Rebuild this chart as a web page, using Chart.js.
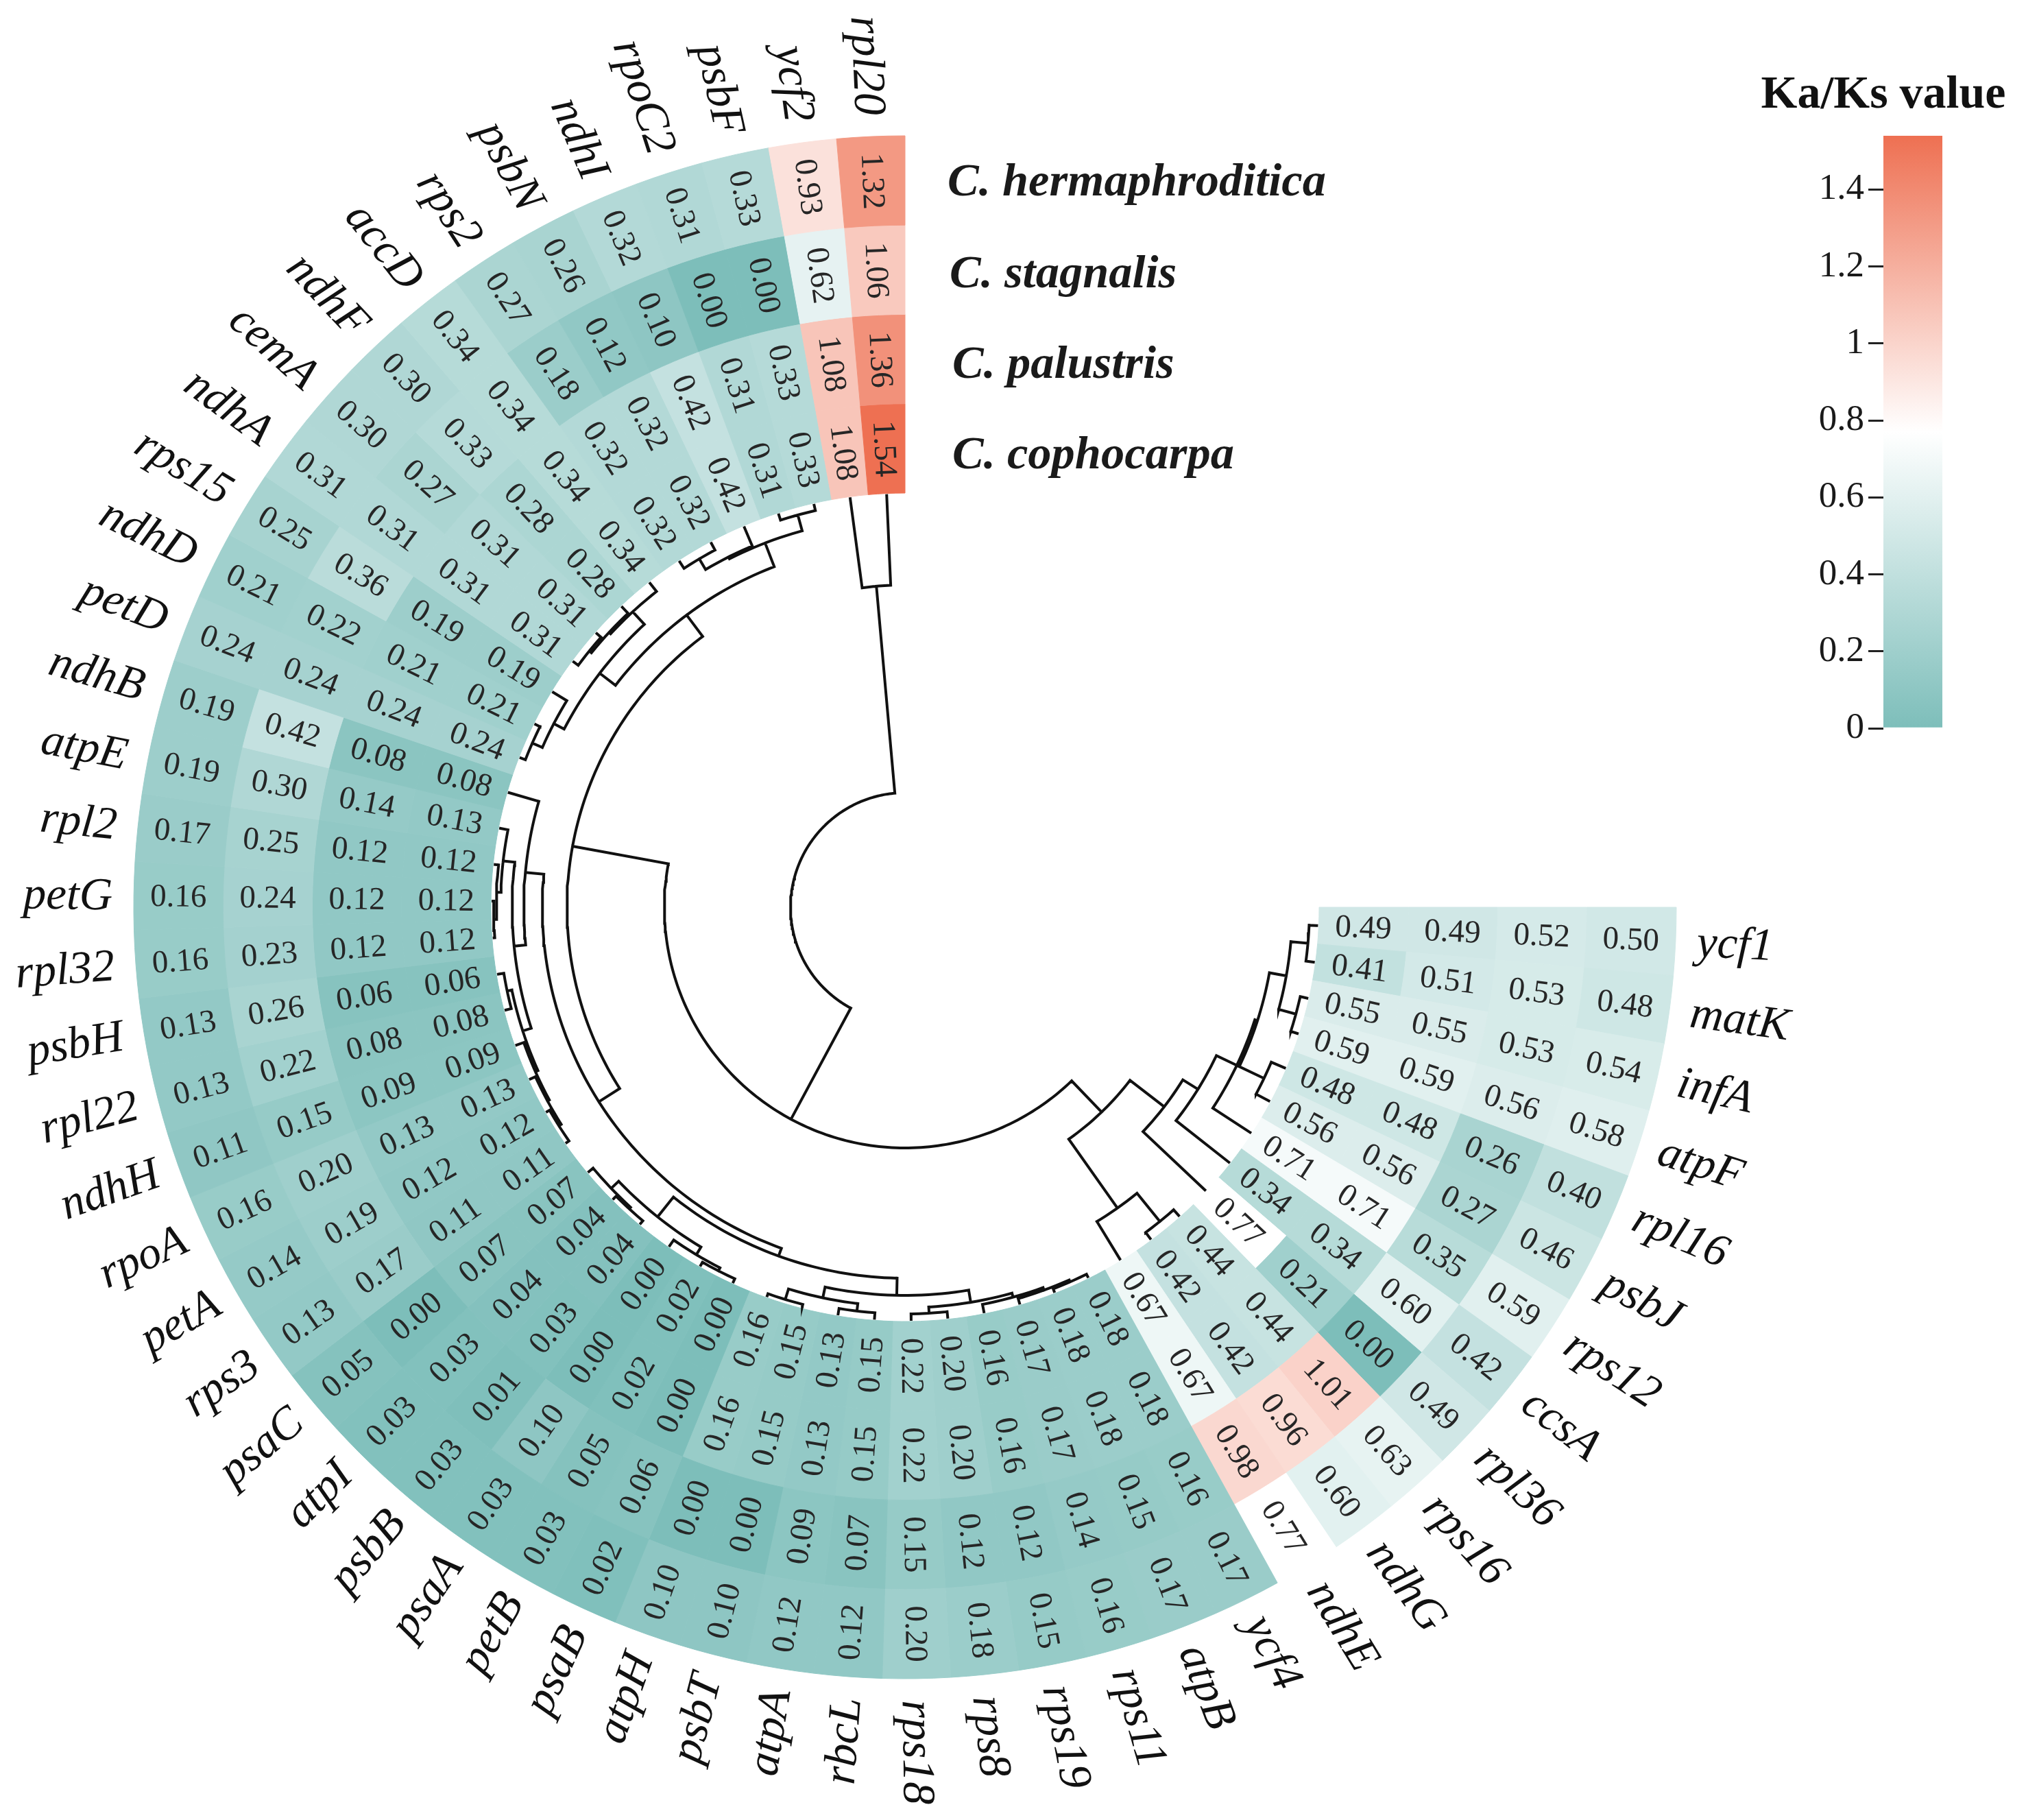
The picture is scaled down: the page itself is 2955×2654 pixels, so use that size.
<!DOCTYPE html>
<html><head><meta charset="utf-8">
<style>
html,body{margin:0;padding:0;background:#fff;overflow:hidden;width:2955px;height:2654px}
canvas{position:absolute;left:0;top:0}
#scale{left:2500px;top:70px}
</style>
<script src="https://cdn.jsdelivr.net/npm/chart.js@4"></script>
</head><body>
<canvas id="main" width="2955" height="2654"></canvas>
<canvas id="tree" width="2955" height="2654"></canvas>
<canvas id="scale" width="455" height="1030"></canvas>
<script>
const genes=["ycf1","matK","infA","atpF","rpl16","psbJ","rps12","ccsA","rpl36","rps16","ndhG","ndhE","ycf4","atpB","rps11","rps19","rps8","rps18","rbcL","atpA","psbT","atpH","psaB","petB","psaA","psbB","atpI","psaC","rps3","petA","rpoA","ndhH","rpl22","psbH","rpl32","petG","rpl2","atpE","ndhB","petD","ndhD","rps15","ndhA","cemA","ndhF","accD","rps2","psbN","ndhI","rpoC2","psbF","ycf2","rpl20"];
const hermaphroditica=[.50,.48,.54,.58,.40,.46,.59,.42,.49,.63,.60,.77,.17,.17,.16,.15,.18,.20,.12,.12,.10,.10,.02,.03,.03,.03,.03,.05,.13,.14,.16,.11,.13,.13,.16,.16,.17,.19,.19,.24,.21,.25,.31,.30,.30,.34,.27,.26,.32,.31,.33,.93,1.32];
const stagnalis=[.52,.53,.53,.56,.26,.27,.35,.60,.00,1.01,.96,.98,.16,.15,.14,.12,.12,.15,.07,.09,.00,.00,.06,.05,.10,.01,.03,.00,.17,.19,.20,.15,.22,.26,.23,.24,.25,.30,.42,.24,.22,.36,.31,.27,.33,.34,.18,.12,.10,.00,.00,.62,1.06];
const palustris=[.49,.51,.55,.59,.48,.56,.71,.34,.21,.44,.42,.67,.18,.18,.17,.16,.20,.22,.15,.13,.15,.16,.00,.02,.00,.03,.04,.07,.11,.12,.13,.09,.08,.06,.12,.12,.12,.14,.08,.24,.21,.19,.31,.31,.28,.34,.32,.32,.42,.31,.33,1.08,1.36];
const cophocarpa=[.49,.41,.55,.59,.48,.56,.71,.34,.77,.44,.42,.67,.18,.18,.17,.16,.20,.22,.15,.13,.15,.16,.00,.02,.00,.04,.04,.07,.11,.12,.13,.09,.08,.06,.12,.12,.12,.13,.08,.24,.21,.19,.31,.31,.28,.34,.32,.32,.42,.31,.33,1.08,1.54];
const speciesNames=["C. hermaphroditica","C. stagnalis","C. palustris","C. cophocarpa"];
const speciesLabelX=[1382,1385,1389,1389];
const speciesLabelY=[267,401,533,665];
const scaleTicks=[0,0.2,0.4,0.6,0.8,1,1.2,1.4];
const scaleMax=1.54, scaleMid=0.77;
const colorLow=[125,190,186], colorMid=[255,255,255], colorHigh=[238,112,82];

/* dendrogram: [merge radius, child, child]; strings are leaves */
const bottomRightClade=[414,
  [537,"ndhE",[590,"rps16","ndhG"]],
  [477,"rpl36",[503,"ccsA",[536,"rps12",[540,[580,"rpl16","psbJ"],[565,[590,"ycf1","matK"],[591,"infA","atpF"]]]]]]];
const plastidCladeA=[556,"ndhB",[573,
  [590,"atpE",[596,"rpl2",[600,"petG","rpl32"]]],
  [586,[593,"psbH","rpl22"],[590,"ndhH",[593,"rpoA",[597,"petA","rps3"]]]]]];
const plastidCladeB=[541,
  [578,[593,"psaC",[596,"atpI","psbB"]],[591,"psaA",[596,"petB","psaB"]]],
  [566,
    [582,[598,"atpH","psbT"],[593,"atpA","rbcL"]],
    [584,[593,"rps18","rps8"],[590,"rps19",[594,"rps11",[597,"atpB","ycf4"]]]]]];
const upperLeftClade=[532,
  [561,[586,"accD",[589,"ndhF",[593,"cemA","ndhA"]]],[578,"rps15",[594,"ndhD","petD"]]],
  [569,[572,[590,"rps2","psbN"],"ndhI"],[593,"rpoC2","psbF"]]];
const dendrogram=[167,
  [351,[493,[529,plastidCladeA,plastidCladeB],upperLeftClade],bottomRightClade],
  [470,"ycf2","rpl20"]];
const leafRadius=601;

const sweepDeg=270;
function cellColor(v){
  const [a,b,t]=v<=scaleMid?[colorLow,colorMid,v/scaleMid]:[colorMid,colorHigh,(v-scaleMid)/(scaleMax-scaleMid)];
  const c=a.map((x,i)=>Math.round(x+(b[i]-x)*t));
  return `rgb(${c[0]},${c[1]},${c[2]})`;
}
function polar(r,deg){const a=deg*Math.PI/180;return {x:r*Math.cos(a),y:-r*Math.sin(a)};}
const gap={x:null,y:null};
const treePoints=[];
function walk(node){
  if(typeof node==="string"){
    return {deg:(genes.indexOf(node)+.5)*sweepDeg/genes.length,r:leafRadius};
  }
  const [r,a,b]=node;
  const ca=walk(a),cb=walk(b);
  const from=Math.min(ca.deg,cb.deg),to=Math.max(ca.deg,cb.deg);
  for(const c of [ca,cb]){treePoints.push(polar(r,c.deg),polar(c.r,c.deg),gap);}
  for(let d=from;d<to;d+=1)treePoints.push(polar(r,d));
  treePoints.push(polar(r,to),gap);
  return {deg:(ca.deg+cb.deg)/2,r};
}
walk(dendrogram);

const series=[hermaphroditica,stagnalis,palustris,cophocarpa];
const ringDatasets=series.map((vals,i)=>({
  label:speciesNames[i],
  data:genes.map(()=>1),
  backgroundColor:vals.map(cellColor),borderColor:vals.map(cellColor),borderWidth:1
}));

function radialText(ctx,x,y,theta,text,align,off){
  const flip=theta>Math.PI/2&&theta<Math.PI*1.5;
  ctx.save();ctx.translate(x,y);ctx.rotate(flip?theta-Math.PI:theta);
  ctx.textBaseline="middle";
  if(align==="center"){ctx.textAlign="center";}
  else{ctx.textAlign=flip?"right":"left";}
  ctx.fillText(text,0,off||0);
  ctx.restore();
}
const labelPlugin={id:"labels",afterDatasetsDraw(chart){
  const ctx=chart.ctx;
  ctx.save();
  series.forEach((vals,ds)=>{
    const arcs=chart.getDatasetMeta(ds).data;
    ctx.font='47px "Liberation Serif"';ctx.fillStyle="#262626";
    arcs.forEach((arc,i)=>{
      const p=arc.getProps(["x","y","startAngle","endAngle","innerRadius","outerRadius"],true);
      const th=(p.startAngle+p.endAngle)/2, r=(p.innerRadius+p.outerRadius)/2;
      radialText(ctx,p.x+r*Math.cos(th),p.y+r*Math.sin(th),th,vals[i].toFixed(2),"center",2);
    });
    if(ds===0){
      ctx.font='italic 67px "Liberation Serif"';ctx.fillStyle="#111";
      arcs.forEach((arc,i)=>{
        const p=arc.getProps(["x","y","startAngle","endAngle","outerRadius"],true);
        const th=(p.startAngle+p.endAngle)/2, r=p.outerRadius+31;
        radialText(ctx,p.x+r*Math.cos(th),p.y+r*Math.sin(th),th,genes[i],"side",3);
      });
    }
  });
  ctx.font='italic bold 68.5px "Liberation Serif"';ctx.fillStyle="#1a1a1a";
  ctx.textAlign="left";ctx.textBaseline="middle";
  speciesNames.forEach((n,i)=>ctx.fillText(n,speciesLabelX[i],speciesLabelY[i]));
  ctx.restore();
}};
const polarArea={left:0,top:0,right:315,bottom:8};
new Chart(document.getElementById("main"),{
  type:"doughnut",
  data:{labels:genes,datasets:ringDatasets},
  plugins:[labelPlugin],
  options:{
    responsive:false,devicePixelRatio:1,animation:false,events:[],
    rotation:90,circumference:sweepDeg,radius:1125,cutout:"53.69%",
    layout:{padding:polarArea},
    plugins:{legend:{display:false},tooltip:{enabled:false},title:{display:false}}
  }
});
new Chart(document.getElementById("tree"),{
  type:"scatter",
  data:{datasets:[{label:"dendrogram",data:treePoints,showLine:true,
    borderColor:"#111",borderWidth:4,pointRadius:0,tension:0,spanGaps:false,clip:false,
    borderCapStyle:"square",borderJoinStyle:"miter"}]},
  options:{
    responsive:false,devicePixelRatio:1,animation:false,events:[],
    layout:{padding:polarArea},
    scales:{
      x:{type:"linear",display:false,min:-1320,max:1320},
      y:{type:"linear",display:false,min:-1323,max:1323}
    },
    plugins:{legend:{display:false},tooltip:{enabled:false}}
  }
});

const scaleTitle={id:"scaleTitle",afterDraw(chart){
  const c=chart.ctx;c.save();
  c.font='bold 68px "Liberation Serif"';c.fillStyle="#111";c.textAlign="center";c.textBaseline="alphabetic";
  c.fillText("Ka/Ks value",247,87);c.restore();
}};
new Chart(document.getElementById("scale"),{
  type:"bar",
  data:{labels:["Ka/Ks"],datasets:[{data:[scaleMax],barPercentage:1,categoryPercentage:1,borderWidth:0,
    backgroundColor(ctx){
      const ch=ctx.chart,s=ch.scales.y;
      if(!ch.chartArea||!s)return "#fff";
      const g=ch.ctx.createLinearGradient(0,s.getPixelForValue(0),0,s.getPixelForValue(scaleMax));
      g.addColorStop(0,cellColor(0));
      g.addColorStop(scaleMid/scaleMax,cellColor(scaleMid));
      g.addColorStop(1,cellColor(scaleMax));
      return g;
    }}]},
  plugins:[scaleTitle],
  options:{
    responsive:false,devicePixelRatio:1,animation:false,events:[],
    layout:{padding:{left:0,top:128,right:122,bottom:38}},
    scales:{
      x:{display:false},
      y:{min:0,max:scaleMax,position:"left",
        afterFit(s){s.width=247;},
        afterBuildTicks(s){s.ticks=scaleTicks.map(v=>({value:v}));},
        border:{display:false},
        grid:{drawOnChartArea:false,drawTicks:true,tickLength:22,color:"#222",lineWidth:3},
        ticks:{padding:6,color:"#1a1a1a",font:{family:"Liberation Serif",size:53},autoSkip:false,maxRotation:0,
          callback:v=>String(v)}
      }
    },
    plugins:{legend:{display:false},tooltip:{enabled:false}}
  }
});
</script>
</body></html>
